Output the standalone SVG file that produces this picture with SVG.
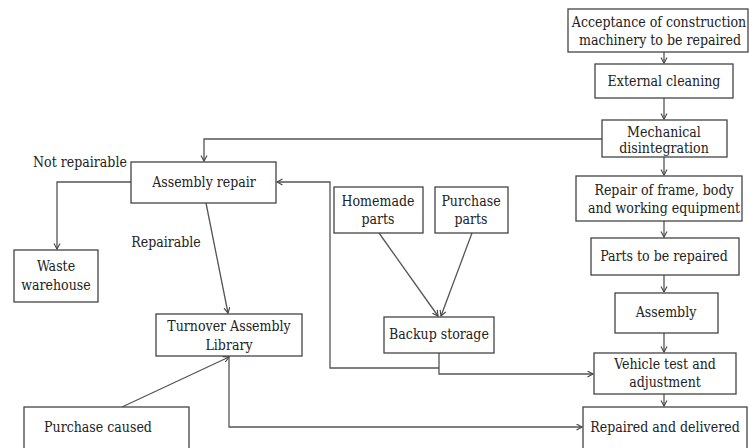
<svg xmlns="http://www.w3.org/2000/svg" width="749" height="448" viewBox="0 0 749 448">
<defs>
<marker id="arr" markerUnits="userSpaceOnUse" markerWidth="8" markerHeight="8" refX="6" refY="3.5" orient="auto">
<path d="M0.5,0.5 L6,3.5 L0.5,6.5" fill="none" stroke="#444" stroke-width="1.1"/>
</marker>
<style>
.box{fill:#fff;stroke:#444;stroke-width:1.3}
text{font-family:"DejaVu Serif Condensed","DejaVu Serif",serif;font-stretch:condensed;font-size:14px;fill:#222;text-anchor:middle}
.c{fill:none;stroke:#555;stroke-width:1.3;marker-end:url(#arr)}
</style>
</defs>
<rect width="749" height="448" fill="#fff"/>
<g id="connectors">
<path class="c" d="M664 52 V63"/>
<path class="c" d="M664 98 V119"/>
<path class="c" d="M664 157 V175"/>
<path class="c" d="M664 221 V237"/>
<path class="c" d="M664 275 V292"/>
<path class="c" d="M664 333 V352"/>
<path class="c" d="M664 394 V406"/>
<path class="c" d="M602 139 H204 V161"/>
<path class="c" d="M131 182 H57 V249"/>
<path class="c" d="M206 203 L228 313"/>
<path class="c" d="M122 407 L229 357"/>
<path class="c" d="M229 356 V427 H582"/>
<path class="c" d="M379 233 L438 316"/>
<path class="c" d="M472 233 L441 316"/>
<path class="c" d="M439 353 V374 H593"/>
<path class="c" d="M439 368 H330 V182 H277"/>
</g>
<g id="acceptance"><rect class="box" x="568" y="9" width="180" height="43"/><text x="659" y="27">Acceptance of construction</text><text x="660" y="45">machinery to be repaired</text></g>
<g id="external"><rect class="box" x="595" y="64" width="138" height="34"/><text x="664" y="86">External cleaning</text></g>
<g id="mechanical"><rect class="box" x="602" y="120" width="125" height="37"/><text x="664" y="137">Mechanical</text><text x="664" y="153">disintegration</text></g>
<g id="repair-frame"><rect class="box" x="576" y="176" width="166" height="45"/><text x="664" y="195">Repair of frame, body</text><text x="664" y="213">and working equipment</text></g>
<g id="parts"><rect class="box" x="591" y="238" width="148" height="37"/><text x="664" y="261">Parts to be repaired</text></g>
<g id="assembly"><rect class="box" x="615" y="293" width="103" height="40"/><text x="666" y="317">Assembly</text></g>
<g id="vehicle"><rect class="box" x="594" y="353" width="142" height="41"/><text x="665" y="369">Vehicle test and</text><text x="665" y="387">adjustment</text></g>
<g id="repaired"><rect class="box" x="583" y="407" width="164" height="45"/><text x="665" y="432">Repaired and delivered</text></g>
<g id="assembly-repair"><rect class="box" x="131" y="162" width="145" height="41"/><text x="204" y="187">Assembly repair</text></g>
<g id="label-not"><text x="80" y="167">Not repairable</text></g>
<g id="waste"><rect class="box" x="14" y="250" width="84" height="52"/><text x="56" y="271">Waste</text><text x="56" y="290">warehouse</text></g>
<g id="label-rep"><text x="166" y="247">Repairable</text></g>
<g id="turnover"><rect class="box" x="156" y="314" width="146" height="42"/><text x="229" y="331">Turnover Assembly</text><text x="229" y="350">Library</text></g>
<g id="purchase-caused"><rect class="box" x="24" y="407" width="165" height="45"/><text x="98" y="432">Purchase caused</text></g>
<g id="homemade"><rect class="box" x="334" y="187" width="89" height="46"/><text x="378" y="206">Homemade</text><text x="378" y="224">parts</text></g>
<g id="purchase-parts"><rect class="box" x="435" y="187" width="73" height="46"/><text x="471" y="206">Purchase</text><text x="471" y="224">parts</text></g>
<g id="backup"><rect class="box" x="384" y="317" width="110" height="36"/><text x="439" y="339">Backup storage</text></g>
</svg>
